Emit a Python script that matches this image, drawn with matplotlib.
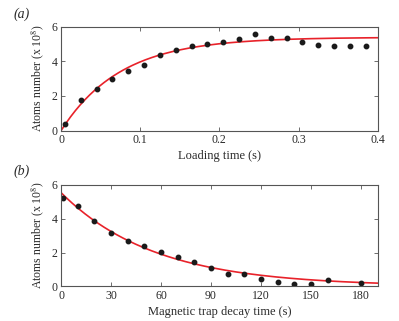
import numpy as np
import matplotlib

matplotlib.use("Agg")
import matplotlib.pyplot as plt

plt.rcParams["font.family"] = ["Liberation Serif", "DejaVu Serif"]
plt.rcParams["mathtext.fontset"] = "stix"

# (a) loading curve
load_t = [0.005, 0.025, 0.045, 0.065, 0.085, 0.105, 0.125, 0.145, 0.165, 0.185,
          0.205, 0.225, 0.245, 0.265, 0.285, 0.305, 0.325, 0.345, 0.365, 0.385]
load_n = [0.37, 1.74, 2.41, 2.99, 3.45, 3.76, 4.36, 4.67, 4.90, 4.99,
          5.09, 5.30, 5.55, 5.34, 5.34, 5.09, 4.95, 4.88, 4.89, 4.89]
load_amp, load_tau = 5.38, 0.075  # fit parameters

# (b) magnetic trap decay
decay_t = [1, 10, 20, 30, 40, 50, 60, 70, 80, 90, 100, 110, 120, 130, 140, 150, 160, 180]
decay_n = [5.22, 4.77, 3.88, 3.17, 2.70, 2.40, 2.02, 1.71, 1.46, 1.08,
           0.75, 0.71, 0.45, 0.25, 0.12, 0.14, 0.37, 0.20]
decay_amp, decay_tau = 5.55, 56.0  # fit parameters

fig = plt.figure(figsize=(3.99, 3.21), dpi=100)
ax1 = fig.add_axes([0.1529, 0.5928, 0.7937, 0.3246])
ax2 = fig.add_axes([0.1529, 0.1081, 0.7937, 0.3156])

edge = "#555555"
txt = "#2a2a2a"
for ax in (ax1, ax2):
    ax.tick_params(direction="in", top=True, right=True, length=3, width=0.6,
                   labelsize=8.5, colors=edge, labelcolor=txt, pad=2.5)
    for s in ax.spines.values():
        s.set_color(edge)
        s.set_linewidth(0.8)
    ax.set_ylim(0, 6)
    ax.set_yticks([0, 2, 4, 6])
    ax.set_ylabel(r"Atoms number (x 10$^{8}$)", fontsize=8.5, color=txt, labelpad=4)

# (a)
tt = np.linspace(0, 0.4, 200)
ax1.plot(tt, load_amp * (1 - np.exp(-tt / load_tau)), color="#e8222a", lw=1.2)
ax1.plot(load_t, load_n, "o", color="#1a1a1a", ms=3.2)
ax1.set_xlim(0, 0.4)
ax1.set_xticks([0, 0.1, 0.2, 0.3, 0.4])
ax1.set_xticklabels(["0", "0.1", "0.2", "0.3", "0.4"])
ax1.set_xlabel("Loading time (s)", fontsize=9, color=txt, labelpad=3)

# (b)
td = np.linspace(0, 190, 200)
ax2.plot(td, decay_amp * np.exp(-td / decay_tau), color="#e8222a", lw=1.2)
ax2.plot(decay_t, decay_n, "o", color="#1a1a1a", ms=3.2)
ax2.set_xlim(0, 190)
ax2.set_xticks([0, 30, 60, 90, 120, 150, 180])
ax2.set_xlabel("Magnetic trap decay time (s)", fontsize=9, color=txt, labelpad=3)

fig.text(0.033, 0.955, "(a)", fontsize=10, style="italic", color=txt, va="center")
fig.text(0.033, 0.465, "(b)", fontsize=10, style="italic", color=txt, va="center")

fig.savefig("out.png", dpi=100)
